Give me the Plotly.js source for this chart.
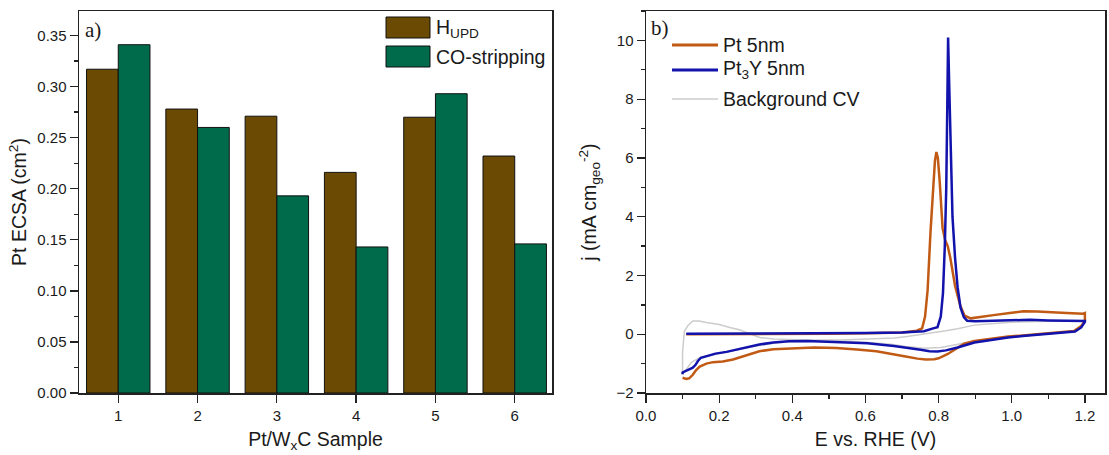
<!DOCTYPE html>
<html>
<head>
<meta charset="utf-8">
<script src="https://cdn.plot.ly/plotly-3.0.1.min.js"></script>
<style>html,body{margin:0;padding:0;background:#fff;}#chart{width:1109px;height:455px;}</style>
</head>
<body>
<div id="chart"></div>
<script>
// ---------- Panel a) data ----------
const samples = [1, 2, 3, 4, 5, 6];
const hupd = [0.317, 0.278, 0.271, 0.216, 0.270, 0.232];
const coStrip = [0.341, 0.260, 0.193, 0.143, 0.293, 0.146];

// ---------- Panel b) data (CV curves, read off the picture) ----------
const ptX = [0.11, 0.2, 0.3, 0.4, 0.5, 0.6, 0.7, 0.74, 0.755, 0.763, 0.770, 0.778, 0.785, 0.790, 0.794, 0.798, 0.803, 0.811, 0.818, 0.825, 0.832, 0.845, 0.859, 0.871, 0.888, 0.917, 0.95, 1.0, 1.032, 1.07, 1.109, 1.15, 1.195, 1.2, 1.2, 1.19, 1.17, 1.13, 1.08, 1.03, 0.99, 0.94, 0.898, 0.87, 0.852, 0.824, 0.80, 0.788, 0.765, 0.742, 0.71, 0.678, 0.63, 0.577, 0.52, 0.46, 0.40, 0.348, 0.31, 0.284, 0.26, 0.238, 0.21, 0.183, 0.165, 0.147, 0.137, 0.128, 0.118, 0.11, 0.10];
const ptY = [0.0, 0.0, 0.0, 0.01, 0.02, 0.03, 0.06, 0.12, 0.2, 0.6, 1.5, 3.5, 5.1, 5.9, 6.2, 6.0, 5.2, 3.6, 3.2, 3.0, 2.6, 1.65, 0.98, 0.63, 0.54, 0.6, 0.65, 0.73, 0.78, 0.77, 0.74, 0.72, 0.70, 0.72, 0.45, 0.28, 0.11, 0.06, 0.02, -0.04, -0.08, -0.15, -0.23, -0.32, -0.45, -0.68, -0.82, -0.85, -0.86, -0.83, -0.76, -0.68, -0.58, -0.52, -0.47, -0.45, -0.47, -0.51, -0.58, -0.68, -0.78, -0.86, -0.93, -0.95, -1.0, -1.1, -1.22, -1.38, -1.5, -1.52, -1.48];

const pt3yX = [0.11, 0.2, 0.3, 0.4, 0.5, 0.6, 0.7, 0.76, 0.785, 0.797, 0.806, 0.812, 0.817, 0.821, 0.824, 0.826, 0.829, 0.833, 0.838, 0.845, 0.852, 0.86, 0.869, 0.878, 0.9, 0.95, 1.0, 1.05, 1.1, 1.15, 1.2, 1.2, 1.19, 1.173, 1.13, 1.08, 1.03, 0.99, 0.94, 0.898, 0.852, 0.82, 0.797, 0.775, 0.751, 0.72, 0.678, 0.605, 0.52, 0.44, 0.39, 0.348, 0.31, 0.275, 0.245, 0.22, 0.19, 0.165, 0.15, 0.142, 0.135, 0.128, 0.118, 0.11, 0.10, 0.10];
const pt3yY = [0.02, 0.02, 0.02, 0.03, 0.03, 0.04, 0.06, 0.1, 0.2, 0.24, 0.6, 1.4, 3.0, 5.0, 8.0, 10.1, 8.5, 6.0, 4.0, 2.6, 1.6, 0.9, 0.58, 0.46, 0.44, 0.46, 0.48, 0.49, 0.47, 0.45, 0.45, 0.42, 0.23, 0.09, 0.05, 0.0, -0.06, -0.11, -0.19, -0.28, -0.45, -0.55, -0.59, -0.58, -0.53, -0.47, -0.40, -0.31, -0.26, -0.23, -0.24, -0.28, -0.35, -0.45, -0.53, -0.6, -0.66, -0.74, -0.8, -0.91, -1.05, -1.14, -1.2, -1.22, -1.3, -1.36];

const bgX = [0.10, 0.10, 0.105, 0.115, 0.128, 0.145, 0.165, 0.2, 0.229, 0.255, 0.275, 0.295, 0.311, 0.35, 0.44, 0.53, 0.623, 0.68, 0.714, 0.75, 0.788, 0.82, 0.852, 0.898, 0.943, 1.0, 1.1, 1.2, 1.2, 1.19, 1.17, 1.08, 0.99, 0.898, 0.85, 0.806, 0.76, 0.71, 0.669, 0.6, 0.53, 0.45, 0.394, 0.35, 0.302, 0.25, 0.211, 0.18, 0.147, 0.125, 0.11, 0.10];
const bgY = [-1.36, -0.6, 0.1, 0.3, 0.45, 0.45, 0.4, 0.33, 0.23, 0.15, 0.06, -0.03, -0.11, -0.16, -0.2, -0.2, -0.17, -0.13, -0.08, -0.02, 0.06, 0.12, 0.19, 0.31, 0.36, 0.41, 0.44, 0.45, 0.42, 0.23, 0.09, 0.02, -0.1, -0.23, -0.35, -0.45, -0.48, -0.42, -0.34, -0.27, -0.23, -0.24, -0.26, -0.31, -0.4, -0.53, -0.63, -0.7, -0.8, -0.95, -1.2, -1.36];

const barNames = ['H<sub>UPD</sub>', 'CO-stripping'];
const lineNames = ['Pt 5nm', 'Pt<sub>3</sub>Y 5nm', 'Background CV'];

// ---------- styles ----------
const BROWN = '#6b4a03', GREEN = '#006b4b';
const ORANGE = '#c05a14', BLUE = '#1212ac', GRAY = '#cccccc';
const AX = '#222222';
const FONT = 'Liberation Sans, Arial, sans-serif';
const TXT = '#1a1a1a';

const W = 1109, H = 455;
const M = {l: 79, r: 4, t: 11, b: 62};
const px = v => (v - M.l) / (W - M.l - M.r);
const py = v => (H - M.b - v) / (H - M.t - M.b);

const traces = [
  {type: 'bar', x: samples, y: hupd, name: barNames[0], marker: {color: BROWN, line: {color: '#111', width: 1}}, xaxis: 'x', yaxis: 'y', showlegend: false},
  {type: 'bar', x: samples, y: coStrip, name: barNames[1], marker: {color: GREEN, line: {color: '#111', width: 1}}, xaxis: 'x', yaxis: 'y', showlegend: false},
  {type: 'scatter', mode: 'lines', x: bgX, y: bgY, name: lineNames[2], line: {color: GRAY, width: 1.5}, xaxis: 'x2', yaxis: 'y2', showlegend: false},
  {type: 'scatter', mode: 'lines', x: ptX, y: ptY, name: lineNames[0], line: {color: ORANGE, width: 2.5}, xaxis: 'x2', yaxis: 'y2', showlegend: false},
  {type: 'scatter', mode: 'lines', x: pt3yX, y: pt3yY, name: lineNames[1], line: {color: BLUE, width: 2.5}, xaxis: 'x2', yaxis: 'y2', showlegend: false}
];

const axBase = {
  showline: true, mirror: true, linecolor: AX, linewidth: 1.5,
  ticks: 'outside', ticklen: 8, tickwidth: 1.3, tickcolor: AX,
  showgrid: false, zeroline: false,
  tickfont: {family: FONT, size: 15, color: TXT}
};
const titleFont = {family: FONT, size: 19.5, color: TXT};
const legFont = {family: FONT, size: 19.5, color: TXT};

const layout = {
  width: W, height: H,
  margin: M,
  paper_bgcolor: '#fff', plot_bgcolor: '#fff',
  barmode: 'group', bargap: 0.2, bargroupgap: 0,
  font: {family: FONT},
  xaxis: Object.assign({}, axBase, {
    domain: [0, px(552)], range: [0.505, 6.47], tickvals: samples,
    title: {text: 'Pt/W<sub>x</sub>C Sample', font: titleFont, standoff: 10}
  }),
  yaxis: Object.assign({}, axBase, {
    range: [0, 0.374], dtick: 0.05, tickformat: '.2f',
    minor: {dtick: 0.025, ticks: 'outside', ticklen: 4, tickcolor: AX},
    title: {text: 'Pt ECSA (cm<sup>2</sup>)', font: titleFont, standoff: 5}
  }),
  xaxis2: Object.assign({}, axBase, {
    domain: [px(646), 1], range: [0, 1.255], dtick: 0.2, tickformat: '.1f', anchor: 'y2',
    minor: {dtick: 0.1, ticks: 'outside', ticklen: 4, tickcolor: AX},
    title: {text: 'E vs. RHE (V)', font: titleFont, standoff: 10}
  }),
  yaxis2: Object.assign({}, axBase, {
    anchor: 'x2', range: [-2, 11], dtick: 2,
    minor: {dtick: 1, ticks: 'outside', ticklen: 4, tickcolor: AX},
    title: {text: 'j (mA cm<sub>geo</sub><sup>-2</sup>)', font: titleFont, standoff: 14}
  }),
  shapes: [
    {type: 'rect', xref: 'paper', yref: 'paper', x0: px(386), x1: px(430), y0: py(38), y1: py(17), fillcolor: BROWN, line: {color: '#111', width: 1}},
    {type: 'rect', xref: 'paper', yref: 'paper', x0: px(386), x1: px(430), y0: py(67), y1: py(46), fillcolor: GREEN, line: {color: '#111', width: 1}},
    {type: 'line', xref: 'paper', yref: 'paper', x0: px(672), x1: px(718), y0: py(45), y1: py(45), line: {color: ORANGE, width: 3}},
    {type: 'line', xref: 'paper', yref: 'paper', x0: px(672), x1: px(718), y0: py(70), y1: py(70), line: {color: BLUE, width: 3}},
    {type: 'line', xref: 'paper', yref: 'paper', x0: px(672), x1: px(718), y0: py(99), y1: py(99), line: {color: GRAY, width: 1.5}}
  ],
  annotations: [
    {xref: 'paper', yref: 'paper', x: px(434), y: py(28), text: barNames[0], showarrow: false, xanchor: 'left', yanchor: 'middle', font: legFont},
    {xref: 'paper', yref: 'paper', x: px(434), y: py(57), text: barNames[1], showarrow: false, xanchor: 'left', yanchor: 'middle', font: legFont},
    {xref: 'paper', yref: 'paper', x: px(721), y: py(45), text: lineNames[0], showarrow: false, xanchor: 'left', yanchor: 'middle', font: legFont},
    {xref: 'paper', yref: 'paper', x: px(721), y: py(70), text: lineNames[1], showarrow: false, xanchor: 'left', yanchor: 'middle', font: legFont},
    {xref: 'paper', yref: 'paper', x: px(721), y: py(99), text: lineNames[2], showarrow: false, xanchor: 'left', yanchor: 'middle', font: legFont},
    {xref: 'paper', yref: 'paper', x: px(83), y: py(30), text: 'a)', showarrow: false, xanchor: 'left', yanchor: 'middle', font: {family: 'Liberation Serif, DejaVu Serif, serif', size: 21, color: TXT}},
    {xref: 'paper', yref: 'paper', x: px(649), y: py(28), text: 'b)', showarrow: false, xanchor: 'left', yanchor: 'middle', font: {family: 'Liberation Serif, DejaVu Serif, serif', size: 21, color: TXT}}
  ]
};

Plotly.newPlot('chart', traces, layout, {displayModeBar: false, staticPlot: true});
</script>
</body>
</html>
